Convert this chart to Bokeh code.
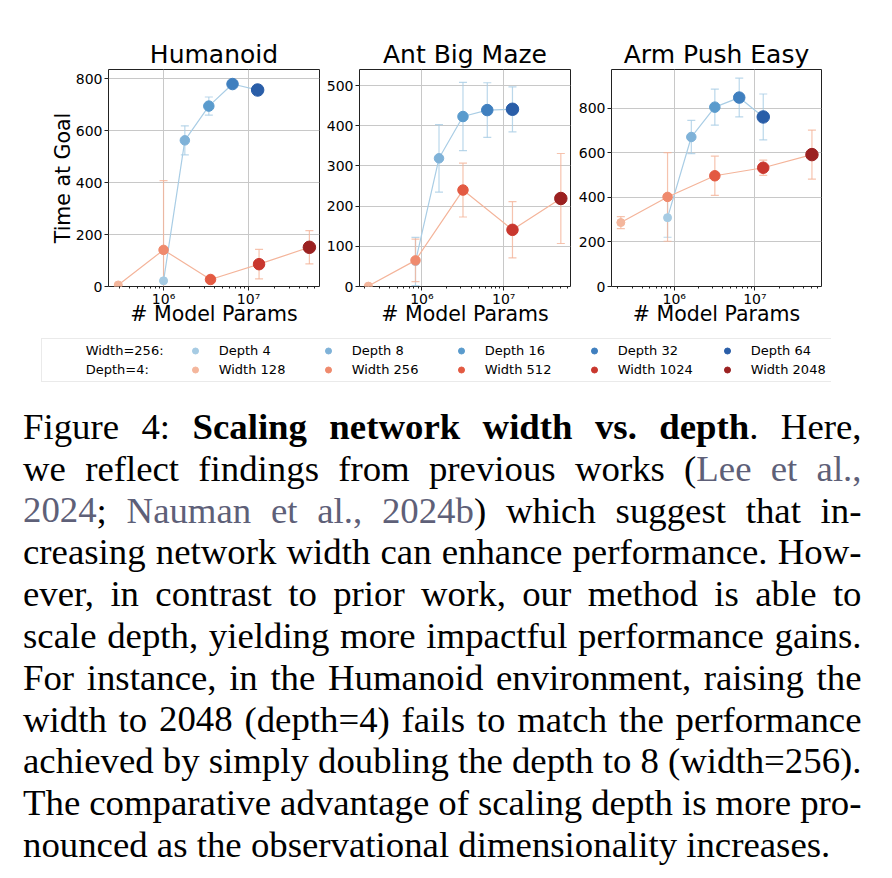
import glob
from bokeh.plotting import figure
from bokeh.models import (Range1d, FixedTicker, CustomJSTickFormatter, Whisker, TeeHead,
                          ColumnDataSource, Legend, LegendItem)
from bokeh.layouts import row, column
from bokeh.embed import file_html
from bokeh.resources import INLINE
from bokeh.core.properties import value

# ---------------- data ----------------
env_titles = ["Humanoid", "Ant Big Maze", "Arm Push Easy"]
depth_labels = ["Depth 4", "Depth 8", "Depth 16", "Depth 32", "Depth 64"]
width_labels = ["Width 128", "Width 256", "Width 512", "Width 1024", "Width 2048"]
legend_row_titles = ["Width=256:", "Depth=4:"]
x_axis_label = "# Model Params"
y_axis_label = "Time at Goal"

humanoid_depth_params = [1.00e6, 1.78e6, 3.41e6, 6.48e6, 1.28e7]
humanoid_depth_time = [22, 563, 695, 780, 757]
humanoid_depth_err = [3, 56, 35, 4, 4]
humanoid_width_params = [2.93e5, 1.00e6, 3.57e6, 1.33e7, 5.20e7]
humanoid_width_time = [6, 141, 27, 86, 151]
humanoid_width_err = [3, 267, 4, 57, 64]

ant_depth_params = [8.36e5, 1.62e6, 3.18e6, 6.30e6, 1.28e7]
ant_depth_time = [62, 319, 423, 439, 441]
ant_depth_err = [60, 84, 85, 68, 56]
ant_width_params = [2.22e5, 8.36e5, 3.18e6, 1.28e7, 4.99e7]
ant_width_time = [1, 65, 240, 141, 219]
ant_width_err = [2, 53, 67, 70, 112]

arm_depth_params = [8.27e5, 1.63e6, 3.19e6, 6.40e6, 1.27e7]
arm_depth_time = [309, 671, 805, 848, 761]
arm_depth_err = [88, 75, 81, 87, 103]
arm_width_params = [2.18e5, 8.27e5, 3.19e6, 1.27e7, 5.10e7]
arm_width_time = [287, 402, 497, 533, 592]
arm_width_err = [27, 199, 88, 34, 110]

humanoid_yticks = [0, 200, 400, 600, 800]
ant_yticks = [0, 100, 200, 300, 400, 500]
arm_yticks = [0, 200, 400, 600, 800]
x_major_ticks = [1e6, 1e7]

caption_lines = [
    "Figure 4: *Scaling network width vs. depth*. Here,",
    "we reflect findings from previous works (~Lee et al.,~",
    "~2024~; ~Nauman et al., 2024b~) which suggest that in-",
    "creasing network width can enhance performance. How-",
    "ever, in contrast to prior work, our method is able to",
    "scale depth, yielding more impactful performance gains.",
    "For instance, in the Humanoid environment, raising the",
    "width to 2048 (depth=4) fails to match the performance",
    "achieved by simply doubling the depth to 8 (width=256).",
    "The comparative advantage of scaling depth is more pro-",
    "nounced as the observational dimensionality increases.",
]

# ---------------- styles ----------------
blues = ["#a6cbe3", "#7fb2d8", "#5a9bcd", "#3f7fbf", "#2a5ea8"]
reds = ["#f4b69c", "#ef8a6d", "#e35a42", "#c9372e", "#9b2121"]
blue_line = "#a9cde5"
red_line = "#f4b49a"
marker_sizes = [8, 9.5, 10.5, 11.5, 12.5]
SANS = "DejaVu Sans"
INK = "#222222"


def sup_formatter():
    return CustomJSTickFormatter(code="""
        const sup = {"0":"\u2070","1":"\u00b9","2":"\u00b2","3":"\u00b3","4":"\u2074",
                     "5":"\u2075","6":"\u2076","7":"\u2077","8":"\u2078","9":"\u2079","-":"\u207b"};
        const e = String(Math.round(Math.log10(tick)));
        return "10" + e.split("").map(c => sup[c]).join("");
    """)


def make_panel(title, dp, dv, de, wp, wv, we, yticks, xr, ymax, bl, br, fw, ylabel=None):
    p = figure(title=title, x_axis_type="log", x_range=Range1d(*xr), y_range=Range1d(0, ymax),
               frame_width=fw, frame_height=217, min_border_left=bl, min_border_right=br,
               min_border_top=69, min_border_bottom=49,
               output_backend="svg", toolbar_location=None)
    p.title.text_font = SANS
    p.title.text_font_size = "25px"
    p.title.text_font_style = "normal"
    p.title.text_color = "black"
    p.title.align = "center"
    p.title.standoff = 2

    minor = [k * 10 ** e for e in (5, 6, 7) for k in range(2, 10) if xr[0] < k * 10 ** e < xr[1]]
    p.xaxis.ticker = FixedTicker(ticks=x_major_ticks, minor_ticks=minor)
    p.xaxis.formatter = sup_formatter()
    p.yaxis.ticker = FixedTicker(ticks=yticks, minor_ticks=[])
    p.xgrid.ticker = FixedTicker(ticks=x_major_ticks)
    p.ygrid.ticker = FixedTicker(ticks=yticks)
    p.grid.grid_line_color = "#c8c8c8"
    p.grid.grid_line_width = 1

    for ax in (p.xaxis, p.yaxis):
        ax.axis_line_color = None
        ax.major_tick_line_color = INK
        ax.minor_tick_line_color = INK
        ax.major_tick_out = 4
        ax.major_tick_in = 0
        ax.minor_tick_out = 2
        ax.minor_tick_in = 0
        ax.major_label_text_font = SANS
        ax.major_label_text_font_size = "14px"
        ax.major_label_text_color = "black"
        ax.major_label_standoff = 2
        ax.axis_label_text_font = SANS
        ax.axis_label_text_font_size = "20.5px"
        ax.axis_label_text_font_style = "normal"
        ax.axis_label_text_color = "black"
    p.yaxis.minor_tick_line_color = None
    p.xaxis.major_label_standoff = 0
    p.xaxis.axis_label = x_axis_label
    p.xaxis.axis_label_standoff = -8
    if ylabel:
        p.yaxis.axis_label = ylabel
        p.yaxis.axis_label_standoff = -2

    p.outline_line_color = INK
    p.outline_line_width = 1

    for xs, ys, es, pal, lc in ((dp, dv, de, blues, blue_line), (wp, wv, we, reds, red_line)):
        src = ColumnDataSource(dict(x=xs, y=ys,
                                   lo=[v - e for v, e in zip(ys, es)],
                                   hi=[v + e for v, e in zip(ys, es)],
                                   color=pal, size=marker_sizes))
        wk = Whisker(source=src, base="x", lower="lo", upper="hi", dimension="height",
                     line_color=lc, line_width=1.2, line_alpha=0.8, level="underlay",
                     upper_head=TeeHead(size=8, line_color=lc, line_width=1.2, line_alpha=0.8),
                     lower_head=TeeHead(size=8, line_color=lc, line_width=1.2, line_alpha=0.8))
        p.add_layout(wk)
        p.line("x", "y", source=src, line_color=lc, line_width=1.2)
        p.scatter("x", "y", source=src, size="size", fill_color="color", line_color="color")
    return p


p1 = make_panel(env_titles[0], humanoid_depth_params, humanoid_depth_time, humanoid_depth_err,
                humanoid_width_params, humanoid_width_time, humanoid_width_err,
                humanoid_yticks, (2.25e5, 6.84e7), 836, 108, 1, 211, ylabel=y_axis_label)
p2 = make_panel(env_titles[1], ant_depth_params, ant_depth_time, ant_depth_err,
                ant_width_params, ant_width_time, ant_width_err,
                ant_yticks, (1.73e5, 6.55e7), 540, 39, 1, 211)
p3 = make_panel(env_titles[2], arm_depth_params, arm_depth_time, arm_depth_err,
                arm_width_params, arm_width_time, arm_width_err,
                arm_yticks, (1.67e5, 6.70e7), 974, 40, 10, 210)

# ---------------- legend ----------------
lf = figure(width=831, height=55, x_range=Range1d(0, 1), y_range=Range1d(0, 1),
            x_axis_location=None, y_axis_location=None, toolbar_location=None,
            output_backend="svg", min_border=0, outline_line_color=None)
lf.grid.visible = False
items = []
for title, labels, pal in ((legend_row_titles[0], depth_labels, blues),
                           (legend_row_titles[1], width_labels, reds)):
    blank = lf.scatter(x=[-1], y=[-1], fill_alpha=0, line_alpha=0)
    items.append(LegendItem(label=title, renderers=[blank]))
    for lab, col in zip(labels, pal):
        # off-screen stand-in renderer, only used to draw the legend swatch
        r = lf.scatter(x=[-1], y=[-1], marker="circle", fill_color=col, line_color=col)
        items.append(LegendItem(label=lab, renderers=[r]))
legend = Legend(items=items, location=(40.7, 8), orientation="horizontal", nrows=2,
                glyph_width=36, glyph_height=15, label_standoff=6, label_width=91,
                label_height=19, spacing=0, padding=2, margin=0,
                label_text_font=SANS, label_text_font_size="13px", label_text_color="black",
                border_line_color="#d6d6d6", border_line_width=1,
                background_fill_color="white", background_fill_alpha=1)
lf.add_layout(legend)

# ---------------- caption ----------------
FS = 36.8
CAP_W, CAP_H = 880, 488
LEFT, RIGHT = 22.5, 861.0
BASE0, LEAD = 36.0, 41.8


def find_font(name):
    for root in ("/usr/share/fonts", "/usr/local/share/fonts"):
        hits = glob.glob(f"{root}/**/{name}", recursive=True)
        if hits:
            return hits[0]
    return None


try:
    from PIL import ImageFont
    _reg = ImageFont.truetype(find_font("LiberationSerif-Regular.ttf"), 200)
    _bold = ImageFont.truetype(find_font("LiberationSerif-Bold.ttf"), 200)

    def measure(t, style):
        return (_bold if style == "b" else _reg).getlength(t) * FS / 200.0
except Exception:
    def measure(t, style):
        return len(t) * FS * (0.5 if style == "b" else 0.45)


def parse(line):
    words, cur, buf = [], [], ""
    state = {"b": False, "c": False}

    def st():
        return "b" if state["b"] else ("c" if state["c"] else "r")
    for ch in line:
        if ch in "*~":
            if buf:
                cur.append((buf, st()))
                buf = ""
            state["b" if ch == "*" else "c"] ^= True
        elif ch == " ":
            if buf:
                cur.append((buf, st()))
                buf = ""
            if cur:
                words.append(cur)
                cur = []
        else:
            buf += ch
    if buf:
        cur.append((buf, st()))
    if cur:
        words.append(cur)
    return words


cap_src = {s: dict(x=[], y=[], text=[]) for s in ("r", "b", "c")}
for i, line in enumerate(caption_lines):
    words = parse(line)
    widths = [sum(measure(t, s) for t, s in w) for w in words]
    if i < len(caption_lines) - 1 and len(words) > 1:
        gap = (RIGHT - LEFT - sum(widths)) / (len(words) - 1)
    else:
        gap = measure(" ", "r")
    xpos = LEFT
    y = BASE0 + LEAD * i
    for w, wd in zip(words, widths):
        xx = xpos
        for t, s in w:
            cap_src[s]["x"].append(xx)
            cap_src[s]["y"].append(y)
            cap_src[s]["text"].append(t)
            xx += measure(t, s)
        xpos += wd + gap

cf = figure(width=CAP_W, height=CAP_H, x_range=Range1d(0, CAP_W), y_range=Range1d(CAP_H, 0),
            x_axis_location=None, y_axis_location=None, toolbar_location=None,
            output_backend="svg", min_border=0, outline_line_color=None)
cf.grid.visible = False
for s, color, weight in (("r", "black", "normal"), ("b", "black", "bold"), ("c", "#5e6078", "normal")):
    cf.text(x="x", y="y", text="text", source=ColumnDataSource(cap_src[s]),
            text_font=value("Liberation Serif"), text_font_size=f"{FS}px",
            text_font_style=weight, text_color=color,
            text_baseline="alphabetic", text_align="left")

layout = column(row(p1, p2, p3), lf, cf)
open("out.html", "w").write(file_html(layout, INLINE))
